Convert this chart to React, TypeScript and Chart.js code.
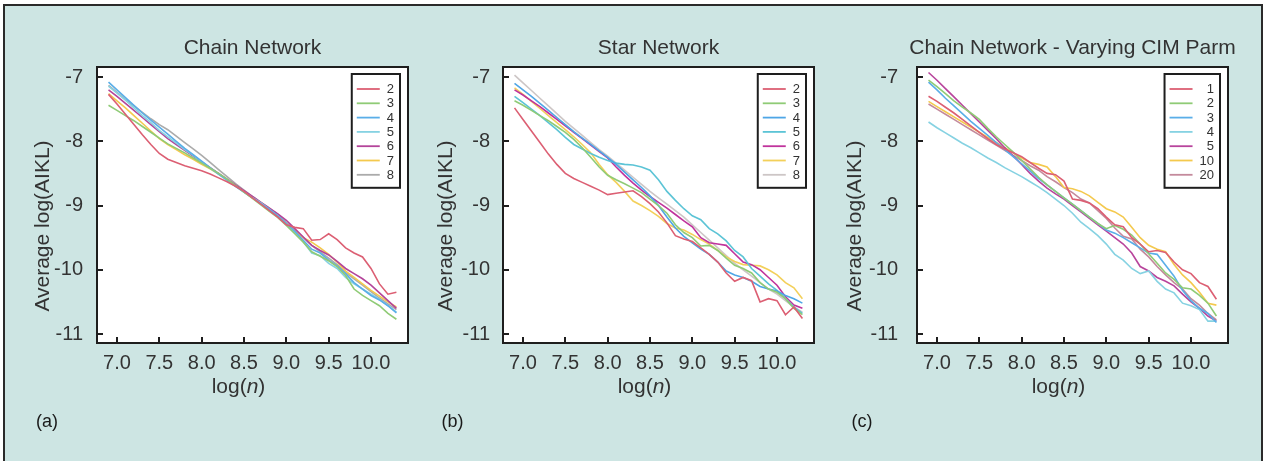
import React, { useEffect, useRef } from "react";
import { Chart, registerables } from "chart.js";

Chart.register(...registerables);

// ---------- data ----------
const logN = [6.9, 7.0, 7.1, 7.2, 7.3, 7.4, 7.5, 7.6, 7.7, 7.8, 7.9, 8.0, 8.1, 8.2, 8.3, 8.4, 8.5, 8.6, 8.7, 8.8, 8.9, 9.0, 9.1, 9.2, 9.3, 9.4, 9.5, 9.6, 9.7, 9.8, 9.9, 10.0, 10.1, 10.2, 10.3];

const xTickStep = 0.5;
const yTickStep = 1;

// (a) Chain Network
const chainLabels = ["2", "3", "4", "5", "6", "7", "8"];
const chain2 = [-7.27, -7.42, -7.58, -7.74, -7.9, -8.05, -8.19, -8.28, -8.33, -8.38, -8.42, -8.46, -8.51, -8.57, -8.63, -8.7, -8.78, -8.88, -8.98, -9.08, -9.18, -9.3, -9.34, -9.36, -9.54, -9.53, -9.44, -9.53, -9.66, -9.74, -9.8, -9.98, -10.22, -10.38, -10.35];
const chain3 = [-7.44, -7.52, -7.6, -7.68, -7.77, -7.86, -7.95, -8.04, -8.11, -8.18, -8.26, -8.34, -8.42, -8.5, -8.59, -8.69, -8.79, -8.89, -8.99, -9.09, -9.19, -9.31, -9.44, -9.57, -9.72, -9.79, -9.86, -9.95, -10.09, -10.3, -10.4, -10.48, -10.56, -10.68, -10.77];
const chain4 = [-7.08, -7.2, -7.32, -7.44, -7.56, -7.67, -7.78, -7.89, -8.0, -8.11, -8.21, -8.31, -8.41, -8.51, -8.6, -8.7, -8.79, -8.88, -8.97, -9.06, -9.16, -9.28, -9.4, -9.54, -9.68, -9.74, -9.85, -9.94, -10.06, -10.2, -10.3, -10.4, -10.47, -10.56, -10.67];
const chain5 = [-7.14, -7.25, -7.36, -7.48, -7.6, -7.71, -7.83, -7.93, -8.03, -8.13, -8.22, -8.32, -8.42, -8.51, -8.61, -8.7, -8.79, -8.88, -8.96, -9.06, -9.16, -9.29, -9.42, -9.56, -9.74, -9.78, -9.9, -9.98, -10.12, -10.22, -10.3, -10.38, -10.46, -10.56, -10.66];
const chain6 = [-7.2, -7.3, -7.41, -7.52, -7.63, -7.74, -7.85, -7.96, -8.05, -8.14, -8.23, -8.32, -8.41, -8.5, -8.59, -8.68, -8.77, -8.86, -8.95, -9.04, -9.13, -9.23, -9.36, -9.49, -9.62, -9.7, -9.77, -9.87, -9.98, -10.06, -10.14, -10.24, -10.36, -10.48, -10.6];
const chain7 = [-7.26, -7.37, -7.48, -7.6, -7.72, -7.84, -7.96, -8.05, -8.13, -8.21, -8.28, -8.36, -8.43, -8.51, -8.6, -8.69, -8.78, -8.87, -8.97, -9.07, -9.17, -9.28, -9.4, -9.5, -9.57, -9.66, -9.76, -9.88, -10.02, -10.12, -10.22, -10.32, -10.41, -10.5, -10.58];
const chain8 = [-7.13, -7.24, -7.35, -7.45, -7.55, -7.65, -7.74, -7.82, -7.92, -8.02, -8.12, -8.22, -8.33, -8.44, -8.55, -8.66, -8.76, -8.86, -8.95, -9.04, -9.14, -9.26, -9.38, -9.5, -9.62, -9.72, -9.82, -9.92, -10.04, -10.14, -10.24, -10.34, -10.44, -10.53, -10.62];

// (b) Star Network
const starLabels = ["2", "3", "4", "5", "6", "7", "8"];
const star2 = [-7.48, -7.66, -7.84, -8.02, -8.2, -8.36, -8.5, -8.58, -8.64, -8.7, -8.76, -8.83, -8.81, -8.79, -8.77, -8.86, -8.97, -9.1, -9.27, -9.47, -9.52, -9.56, -9.66, -9.76, -9.88, -10.05, -10.18, -10.12, -10.17, -10.5, -10.45, -10.48, -10.7, -10.58, -10.76];
const star3 = [-7.37, -7.44, -7.52, -7.6, -7.68, -7.77, -7.86, -7.97, -8.1, -8.25, -8.4, -8.53, -8.6, -8.66, -8.73, -8.8, -8.9, -9.0, -9.12, -9.3, -9.42, -9.5, -9.63, -9.62, -9.7, -9.82, -9.93, -9.98, -10.05, -10.2, -10.3, -10.35, -10.45, -10.6, -10.7];
const star4 = [-7.1, -7.2, -7.3, -7.41, -7.52, -7.63, -7.74, -7.85, -7.95, -8.05, -8.15, -8.25, -8.36, -8.48, -8.6, -8.72, -8.85, -9.0, -9.18, -9.35, -9.48, -9.58, -9.68, -9.76, -9.88, -10.02, -10.08, -10.12, -10.18, -10.26, -10.3, -10.33, -10.4, -10.45, -10.52];
const star5 = [-7.3, -7.4, -7.5, -7.6, -7.71, -7.82, -7.94, -8.05, -8.12, -8.19, -8.25, -8.3, -8.34, -8.36, -8.37, -8.4, -8.45, -8.6, -8.78, -8.92, -9.05, -9.16, -9.22, -9.36, -9.44, -9.55, -9.7, -9.8, -9.98, -10.1, -10.22, -10.32, -10.45, -10.58, -10.68];
const star6 = [-7.2, -7.28, -7.37, -7.46, -7.56, -7.66, -7.76, -7.86, -7.96, -8.06, -8.16, -8.26, -8.4, -8.53, -8.65, -8.76, -8.86, -8.95, -9.04, -9.14, -9.24, -9.33, -9.5, -9.58, -9.6, -9.62, -9.75, -9.88, -9.92, -10.0, -10.12, -10.24, -10.42, -10.55, -10.6];
const star7 = [-7.17, -7.27, -7.38, -7.49, -7.6, -7.71, -7.82, -7.93, -8.05, -8.18, -8.36, -8.52, -8.64, -8.78, -8.93, -9.0, -9.08, -9.17, -9.28, -9.35, -9.38, -9.45, -9.53, -9.6, -9.7, -9.8, -9.87, -9.92, -9.93, -9.94, -10.0, -10.08, -10.2, -10.28, -10.45];
const star8 = [-6.97, -7.09, -7.21, -7.33, -7.45, -7.57, -7.69, -7.8, -7.91, -8.02, -8.13, -8.23, -8.34, -8.45, -8.56, -8.67, -8.78, -8.88, -8.98, -9.08, -9.18, -9.3, -9.42, -9.54, -9.66, -9.78, -9.9, -10.0, -10.1, -10.2, -10.3, -10.38, -10.48, -10.58, -10.66];

// (c) Chain Network - Varying CIM Parm
const cimLabels = ["1", "2", "3", "4", "5", "10", "20"];
const cim1 = [-7.3, -7.38, -7.47, -7.56, -7.66, -7.76, -7.86, -7.96, -8.05, -8.12, -8.18, -8.24, -8.33, -8.42, -8.5, -8.52, -8.62, -8.9, -8.92, -8.96, -9.05, -9.18, -9.3, -9.33, -9.5, -9.6, -9.72, -9.7, -9.73, -9.88, -10.0, -10.06, -10.2, -10.26, -10.46];
const cim2 = [-7.05, -7.15, -7.26, -7.37, -7.47, -7.56, -7.66, -7.8, -7.93, -8.05, -8.17, -8.3, -8.43, -8.56, -8.68, -8.78, -8.88, -8.98, -9.08, -9.18, -9.28, -9.36, -9.31, -9.37, -9.46, -9.6, -9.75, -9.9, -10.05, -10.15, -10.28, -10.3, -10.4, -10.52, -10.72];
const cim3 = [-7.08, -7.2, -7.33, -7.45, -7.57, -7.69, -7.8, -7.91, -8.02, -8.13, -8.24, -8.35, -8.46, -8.58, -8.68, -8.78, -8.88, -8.98, -9.08, -9.18, -9.28, -9.38, -9.43, -9.5, -9.58, -9.66, -9.74, -9.76, -9.93, -10.1, -10.32, -10.48, -10.6, -10.68, -10.82];
const cim4 = [-7.7, -7.79, -7.87, -7.95, -8.03, -8.1, -8.18, -8.26, -8.33, -8.41, -8.48, -8.55, -8.63, -8.71, -8.8, -8.9, -9.0, -9.12, -9.26, -9.36, -9.47, -9.6, -9.76, -9.85, -9.98, -10.06, -10.02, -10.18, -10.3, -10.36, -10.52, -10.56, -10.62, -10.8, -10.8];
const cim5 = [-6.93, -7.05, -7.18, -7.31, -7.44, -7.57, -7.7, -7.83, -7.96, -8.1, -8.23, -8.36, -8.5, -8.62, -8.73, -8.82, -8.9, -9.0, -9.1, -9.2, -9.3, -9.4, -9.5, -9.6, -9.74, -9.95, -10.02, -10.12, -10.18, -10.25, -10.38, -10.5, -10.6, -10.72, -10.8];
const cim10 = [-7.38, -7.46, -7.54, -7.62, -7.7, -7.78, -7.86, -7.94, -8.02, -8.1, -8.18, -8.26, -8.33, -8.36, -8.4, -8.55, -8.72, -8.74, -8.78, -8.85, -8.95, -9.05, -9.1, -9.18, -9.34, -9.5, -9.62, -9.68, -9.72, -9.92, -10.08, -10.2, -10.35, -10.52, -10.55];
const cim20 = [-7.42, -7.5, -7.58, -7.66, -7.74, -7.82, -7.9, -7.98, -8.06, -8.14, -8.22, -8.3, -8.38, -8.45, -8.55, -8.63, -8.72, -8.8, -8.9, -8.96, -9.08, -9.2, -9.35, -9.48, -9.52, -9.68, -9.8, -9.95, -10.08, -10.2, -10.3, -10.45, -10.55, -10.68, -10.78];

const chainColors = ["#dc5f73", "#8fcb76", "#5aaee8", "#86d2e2", "#b4449a", "#f4c94e", "#ababab"];
const starColors = ["#dc5f73", "#8fcb76", "#4ea6e6", "#5cc4d6", "#c0339c", "#f3d05a", "#cdc6c6"];
const cimColors = ["#dc5f73", "#8fcb76", "#5aaee8", "#86d2e2", "#b8449c", "#f4c94e", "#c48a9c"];

const FONT = "'Liberation Sans', Arial, Helvetica, sans-serif";
const TEXT = "#333333";

type Panel = {
  title: string;
  tag: string;
  labels: string[];
  colors: string[];
  series: number[][];
  canvasLeft: number;
  tickGap: number;
  yTitleX: number;
  tagX: number;
};

const panels: Panel[] = [
  { title: "Chain Network", tag: "(a)", labels: chainLabels, colors: chainColors, series: [chain2, chain3, chain4, chain5, chain6, chain7, chain8], canvasLeft: 0, tickGap: 14, yTitleX: 43.5, tagX: 36 },
  { title: "Star Network", tag: "(b)", labels: starLabels, colors: starColors, series: [star2, star3, star4, star5, star6, star7, star8], canvasLeft: 406, tickGap: 13, yTitleX: 446.5, tagX: 441.5 },
  { title: "Chain Network - Varying CIM Parm", tag: "(c)", labels: cimLabels, colors: cimColors, series: [cim1, cim2, cim3, cim4, cim5, cim10, cim20], canvasLeft: 820, tickGap: 19, yTitleX: 855, tagX: 851.5 },
];

const CANVAS_W = 420;
const CANVAS_H = 461;
const Y_AXIS_W = 97;
const X_AXIS_H = 118;

function makeDecor(p: Panel) {
  return {
    id: "decor",
    beforeDraw(chart: any) {
      const { ctx, chartArea: a } = chart;
      ctx.save();
      ctx.fillStyle = "#ffffff";
      ctx.fillRect(a.left, a.top, a.right - a.left, a.bottom - a.top);
      ctx.restore();
    },
    afterDraw(chart: any) {
      const { ctx, chartArea: a } = chart;
      const xs = chart.scales.x;
      const ys = chart.scales.y;
      ctx.save();
      // frame
      ctx.strokeStyle = "#1e1e1e";
      ctx.lineWidth = 2;
      ctx.strokeRect(a.left, a.top, a.right - a.left, a.bottom - a.top);
      // inside ticks
      ctx.lineWidth = 2;
      ctx.beginPath();
      xs.ticks.forEach((t: any) => {
        const px = Math.round(xs.getPixelForValue(t.value)) + 0.0;
        ctx.moveTo(px, a.bottom);
        ctx.lineTo(px, a.bottom - 6);
      });
      ys.ticks.forEach((t: any) => {
        const py = Math.round(ys.getPixelForValue(t.value));
        ctx.moveTo(a.left, py);
        ctx.lineTo(a.left + 6, py);
      });
      ctx.stroke();

      // legend
      ctx.font = `13px ${FONT}`;
      const maxW = Math.max(...p.labels.map((l) => ctx.measureText(l).width));
      const boxW = 6 + 23 + 6 + maxW + 6;
      const rowH = 14.3;
      const boxH = 15 + rowH * (p.labels.length - 1) + 13;
      const bx = a.right - 8 - boxW;
      const by = a.top + 7;
      ctx.fillStyle = "#ffffff";
      ctx.fillRect(bx, by, boxW, boxH);
      ctx.strokeStyle = "#1e1e1e";
      ctx.lineWidth = 2;
      ctx.strokeRect(bx, by, boxW, boxH);
      p.labels.forEach((lab, i) => {
        const cy = by + 15 + i * rowH;
        ctx.strokeStyle = p.colors[i];
        ctx.lineWidth = 1.8;
        ctx.beginPath();
        ctx.moveTo(bx + 5, cy);
        ctx.lineTo(bx + 28, cy);
        ctx.stroke();
        ctx.fillStyle = TEXT;
        ctx.textAlign = "right";
        ctx.textBaseline = "middle";
        ctx.fillText(lab, bx + boxW - 6, cy + 0.5);
      });

      // chart title
      const cx = (a.left + a.right) / 2;
      ctx.fillStyle = TEXT;
      ctx.font = `21px ${FONT}`;
      ctx.textAlign = "center";
      ctx.textBaseline = "alphabetic";
      ctx.fillText(p.title, cx, 54);

      // x title: log(n) with italic n
      const normal = `21px ${FONT}`;
      const italic = `italic 21px ${FONT}`;
      ctx.font = normal;
      const w1 = ctx.measureText("log(").width;
      const w3 = ctx.measureText(")").width;
      ctx.font = italic;
      const w2 = ctx.measureText("n").width;
      const total = w1 + w2 + w3;
      let sx = cx - 14 - total / 2;
      ctx.textAlign = "left";
      ctx.font = normal;
      ctx.fillText("log(", sx, 393);
      sx += w1;
      ctx.font = italic;
      ctx.fillText("n", sx, 393);
      sx += w2;
      ctx.font = normal;
      ctx.fillText(")", sx, 393);

      // y title
      ctx.save();
      ctx.translate(p.yTitleX - p.canvasLeft, 226);
      ctx.rotate(-Math.PI / 2);
      ctx.font = `21px ${FONT}`;
      ctx.textAlign = "center";
      ctx.textBaseline = "middle";
      ctx.fillText("Average log(AIKL)", 0, 0);
      ctx.restore();

      // panel tag
      ctx.fillStyle = "#1a1a1a";
      ctx.font = `18px ${FONT}`;
      ctx.textAlign = "left";
      ctx.textBaseline = "middle";
      ctx.fillText(p.tag, p.tagX - p.canvasLeft, 422);
      ctx.restore();
    },
  };
}

function PanelChart({ p }: { p: Panel }) {
  const ref = useRef<HTMLCanvasElement | null>(null);
  useEffect(() => {
    if (!ref.current) return;
    const datasets = p.series.map((vals, i) => ({
      label: p.labels[i],
      data: vals.map((v, j) => ({ x: logN[j], y: v })),
      borderColor: p.colors[i],
      backgroundColor: p.colors[i],
      borderWidth: 1.6,
      pointRadius: 0,
      tension: 0,
      fill: false,
    }));
    const tickFont = { family: FONT, size: 20 };
    const chart = new Chart(ref.current, {
      type: "line",
      data: { datasets },
      options: {
        responsive: false,
        animation: false,
        devicePixelRatio: 1,
        layout: { padding: { top: 67, right: CANVAS_W - Y_AXIS_W - 311, bottom: 0, left: 0 } },
        plugins: { legend: { display: false }, title: { display: false }, tooltip: { enabled: false } },
        scales: {
          x: {
            type: "linear",
            min: 6.764,
            max: 10.437,
            grid: { display: false, drawTicks: false },
            border: { display: false },
            ticks: {
              stepSize: xTickStep,
              includeBounds: false,
              autoSkip: false,
              maxRotation: 0,
              padding: 8,
              color: TEXT,
              font: tickFont,
              callback: (v: any) => Number(v).toFixed(1),
            },
            afterFit: (s: any) => {
              s.height = X_AXIS_H;
            },
          },
          y: {
            type: "linear",
            min: -11.14,
            max: -6.844,
            grid: { display: false, drawTicks: false },
            border: { display: false },
            ticks: {
              stepSize: yTickStep,
              includeBounds: false,
              padding: p.tickGap,
              color: TEXT,
              font: tickFont,
              callback: (v: any) => String(v),
            },
            afterFit: (s: any) => {
              s.width = Y_AXIS_W;
            },
          },
        },
      } as any,
      plugins: [makeDecor(p)],
    });
    return () => chart.destroy();
  }, [p]);
  return (
    <canvas
      ref={ref}
      width={CANVAS_W}
      height={CANVAS_H}
      style={{ position: "absolute", left: p.canvasLeft, top: 0, width: CANVAS_W, height: CANVAS_H, display: "block" }}
    />
  );
}

export default function App() {
  return (
    <div style={{ position: "absolute", left: 0, top: 0, width: 1267, height: 461, overflow: "hidden", background: "#ffffff" }}>
      <div
        style={{
          position: "absolute",
          left: 3,
          top: 4,
          width: 1260,
          height: 457,
          boxSizing: "border-box",
          background: "#cde5e3",
          borderTop: "2px solid #2a2a2a",
          borderLeft: "2px solid #2a2a2a",
          borderRight: "2px solid #2a2a2a",
        }}
      />
      {panels.map((p) => (
        <PanelChart key={p.tag} p={p} />
      ))}
    </div>
  );
}
